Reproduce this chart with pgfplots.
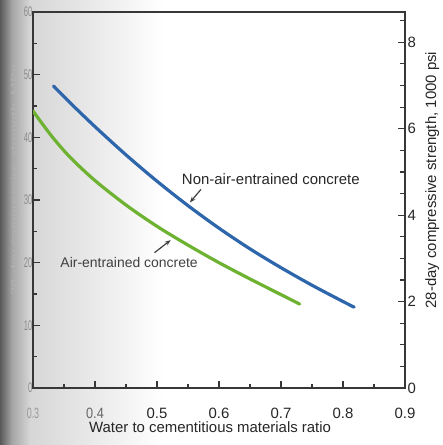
\documentclass[border=0pt]{standalone}
\usepackage{pgfplots}
\pgfplotsset{compat=1.18}
\usepackage{fontspec}
\setmainfont{Liberation Sans}
\usetikzlibrary{arrows.meta}
\definecolor{nonair}{RGB}{46,102,172}
\definecolor{airent}{RGB}{110,178,50}
\definecolor{axisgray}{RGB}{55,55,55}
% left side of the page lies in the shadow of the spine
\newcommand{\lt}[1]{\textcolor{black!45}{\scalebox{0.55}[1]{#1}}}
\newcommand{\fs}{\fontsize{15}{18}\selectfont}

\begin{document}
\begin{tikzpicture}
\shade[left color=black!65, right color=black!35] (-33bp,-57bp) rectangle (-21bp,388bp);
\shade[left color=black!35, right color=black!16] (-21bp,-57bp) rectangle (-3bp,388bp);
\shade[left color=black!16, right color=white] (-3bp,-57bp) rectangle (130bp,388bp);

\begin{axis}[
  at={(0,0)}, anchor=south west,
  scale only axis, width=372bp, height=376bp,
  xmin=0.3, xmax=0.9, ymin=0, ymax=60,
  axis line style={axisgray, line width=1.1bp},
  every tick/.style={axisgray, line width=1.1bp},
  major tick length=7bp, minor tick length=4bp,
  tick pos=left,
  xtick={0.3,0.4,0.5,0.6,0.7,0.8,0.9},
  minor xtick={0.35,0.45,0.55,0.65,0.75,0.85},
  xticklabels={{\textcolor{black!40}{\scalebox{0.6}[1]{0.3}}},{\textcolor{black!60}{\scalebox{0.85}[1]{0.4}}},0.5,0.6,0.7,0.8,0.9},
  xticklabel style={font=\fs, text=black!85, anchor=center, yshift=-25bp},
  ytick={0,10,20,30,40,50,60},
  minor ytick={5,15,25,35,45,55},
  yticklabels={\lt{0},\lt{10},\lt{20},\lt{30},\lt{40},\lt{50},\lt{60}},
  yticklabel style={font=\fontsize{14}{16}\selectfont, xshift=3bp},
  xlabel={Water to cementitious materials ratio},
  xlabel style={font=\fs, text=black!85, at={(axis description cs:0.476,-0.104)}, anchor=center},
  ylabel={\scalebox{1}[0.6]{28-day compressive strength, MPa}},
  ylabel style={font=\fs, text=black!30, at={(axis description cs:-0.048,0.553)}, anchor=center},
]
% non-air-entrained concrete, MPa
\addplot[nonair, line width=3.2bp, line cap=round, smooth] coordinates {
  (0.333,48.2)(0.36,45.5)(0.40,41.7)(0.45,37.2)(0.50,33.0)(0.55,29.1)
  (0.60,25.5)(0.65,22.2)(0.70,19.2)(0.75,16.4)(0.80,13.8)(0.818,12.9)
};
% air-entrained concrete, MPa
\addplot[airent, line width=3.2bp, line cap=round, smooth] coordinates {
  (0.30,44.2)(0.33,40.2)(0.36,36.8)(0.40,33.1)(0.45,29.2)(0.50,25.8)
  (0.55,22.8)(0.60,20.0)(0.65,17.4)(0.70,14.9)(0.73,13.4)
};
\node[anchor=west, font=\fs, text=black!85, inner sep=0pt] at (axis cs:0.540,33.3) {Non-air-entrained concrete};
\draw[-{Stealth[length=6bp,width=4.5bp]}, line width=1.2bp, black!75] (axis cs:0.571,31.7) -- (axis cs:0.553,29.6);
\node[anchor=west, font=\fontsize{14}{16}\selectfont, text=black!75, inner sep=0pt] at (axis cs:0.344,20.0) {Air-entrained concrete};
\draw[-{Stealth[length=6bp,width=4.5bp]}, line width=1.2bp, black!75] (axis cs:0.496,21.6) -- (axis cs:0.522,23.6);
\end{axis}

\begin{axis}[
  at={(0,0)}, anchor=south west,
  scale only axis, width=372bp, height=376bp,
  xmin=0.3, xmax=0.9, ymin=0, ymax=8.7021,
  axis x line=none, axis y line*=right,
  axis line style={axisgray, line width=1.1bp},
  every tick/.style={axisgray, line width=1.1bp},
  major tick length=7bp, minor tick length=5bp,
  ytick={0,2,4,6,8},
  minor ytick={0.5,1,1.5,2.5,3,3.5,4.5,5,5.5,6.5,7,7.5,8.5},
  yticklabels={0,2,4,6,8},
  yticklabel style={font=\fs, text=black!85, xshift=-1bp},
  ylabel={28-day compressive strength, 1000 psi},
  ylabel style={font=\fs, text=black!85, at={(axis description cs:1.073,0.553)}, anchor=center},
]
\end{axis}

\pgfresetboundingbox
\path (-33bp,-57bp) rectangle (410bp,388bp);
\end{tikzpicture}
\end{document}
